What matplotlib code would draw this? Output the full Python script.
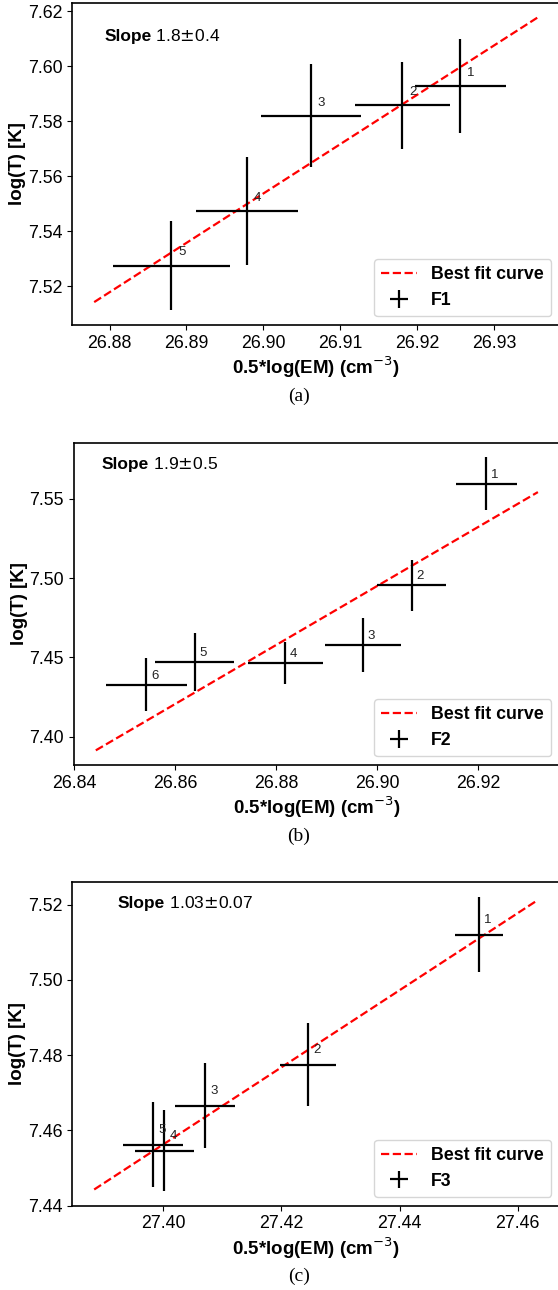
import matplotlib
matplotlib.use("Agg")
from matplotlib import pyplot as plt
from matplotlib.ticker import MultipleLocator, FormatStrFormatter

plt.rcParams['font.family'] = ['Liberation Sans', 'DejaVu Sans']

# panel (a) - F1
f1_x = [26.9256, 26.9181, 26.9062, 26.8979, 26.8880]
f1_y = [7.5926, 7.5857, 7.5820, 7.5472, 7.5275]
f1_xerr = [0.0059, 0.0062, 0.0065, 0.0066, 0.0076]
f1_yerr = [0.0171, 0.0157, 0.0186, 0.0196, 0.0163]
f1_fit_x = [26.8780, 26.9357]
f1_fit_y = [7.5142, 7.6177]

# panel (b) - F2
f2_x = [26.9216, 26.9068, 26.8972, 26.8818, 26.8639, 26.8543]
f2_y = [7.5595, 7.4954, 7.4578, 7.4464, 7.4471, 7.4328]
f2_xerr = [0.0060, 0.0068, 0.0075, 0.0074, 0.0078, 0.0080]
f2_yerr = [0.0166, 0.0162, 0.0168, 0.0133, 0.0181, 0.0166]
f2_fit_x = [26.8443, 26.9318]
f2_fit_y = [7.3914, 7.5542]

# panel (c) - F3
f3_x = [27.4534, 27.4245, 27.4070, 27.4002, 27.3983]
f3_y = [7.5120, 7.4775, 7.4666, 7.4546, 7.4562]
f3_xerr = [0.0041, 0.0048, 0.0051, 0.0050, 0.0051]
f3_yerr = [0.0100, 0.0110, 0.0113, 0.0107, 0.0113]
f3_fit_x = [27.3883, 27.4634]
f3_fit_y = [7.4443, 7.5212]

slopes = [r"1.8$\pm$0.4", r"1.9$\pm$0.5", r"1.03$\pm$0.07"]
names = ["F1", "F2", "F3"]
captions = ["(a)", "(b)", "(c)"]

W, H = 558, 1290
fig = plt.figure(figsize=(W / 100, H / 100), dpi=100)

# axes boxes in pixels: left, top, bottom (right runs past the image edge)
boxes = [(72, 2.7, 325), (73.7, 442.7, 765), (72, 882.3, 1205.7)]
right_px = 560
slope_pos = [(0.066, 0.894), (0.057, 0.931), (0.094, 0.933)]
label_off = [(7.6, 9.4), (6.1, 6.5), (6.7, 10.8)]
xstep = [0.01, 0.02, 0.02]
ystep = [0.02, 0.05, 0.02]
caption_y = [396, 836, 1276]

panels = [
    (f1_x, f1_y, f1_xerr, f1_yerr, f1_fit_x, f1_fit_y),
    (f2_x, f2_y, f2_xerr, f2_yerr, f2_fit_x, f2_fit_y),
    (f3_x, f3_y, f3_xerr, f3_yerr, f3_fit_x, f3_fit_y),
]

for i, (x, y, xe, ye, fx, fy) in enumerate(panels):
    left, top, bottom = boxes[i]
    ax = fig.add_axes([left / W, 1 - bottom / H, (right_px - left) / W, (bottom - top) / H])

    ax.plot(fx, fy, 'r--', lw=1.6, label='Best fit curve')
    ax.errorbar(x, y, xerr=xe, yerr=ye, fmt='none', ecolor='black',
                elinewidth=1.6, capsize=0, label=names[i])
    for n in range(len(x)):
        ax.annotate(str(n + 1), (x[n], y[n]), xytext=label_off[i],
                    textcoords='offset points', ha='center', va='center',
                    fontsize=9.5, color='#222222')

    t = ax.text(slope_pos[i][0], slope_pos[i][1], "Slope", transform=ax.transAxes,
                fontsize=12.5, fontweight='bold', va='center')
    ax.annotate(" " + slopes[i], xy=(1, 0), xycoords=t, va='bottom', fontsize=12.5)

    ax.xaxis.set_major_locator(MultipleLocator(xstep[i]))
    ax.yaxis.set_major_locator(MultipleLocator(ystep[i]))
    ax.xaxis.set_major_formatter(FormatStrFormatter('%.2f'))
    ax.yaxis.set_major_formatter(FormatStrFormatter('%.2f'))
    ax.tick_params(labelsize=12.8)
    for s in ax.spines.values():
        s.set_linewidth(1.2)

    ax.set_xlabel(r"0.5*log(EM) (cm$^{-3}$)", fontsize=13.5, fontweight='bold', labelpad=2)
    ax.set_ylabel("log(T) [K]", fontsize=13.5, fontweight='bold', labelpad=1)
    ax.legend(loc='lower right', prop={'weight': 'bold', 'size': 12.8})

    fig.text(299 / W, 1 - caption_y[i] / H, captions[i], ha='center', va='center',
             fontsize=14, family='Liberation Serif')

fig.savefig('out.png', dpi=100)
